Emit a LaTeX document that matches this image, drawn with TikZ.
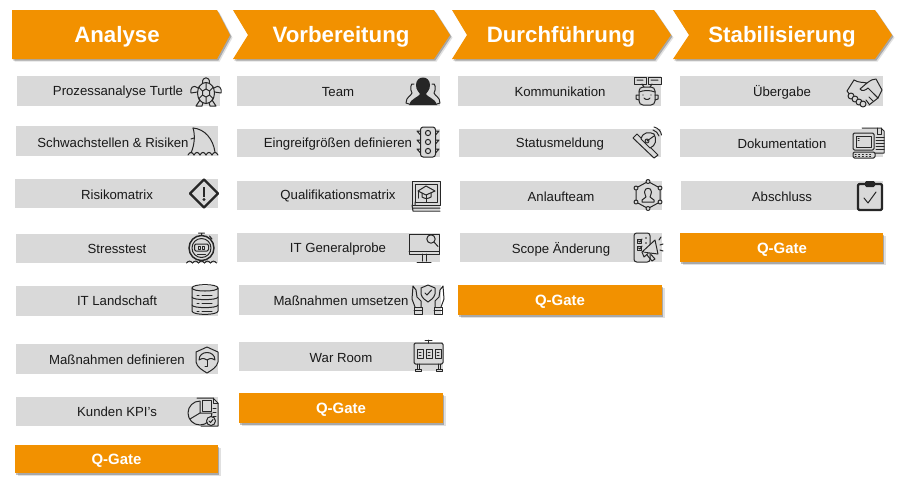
\documentclass[tikz,border=0pt]{standalone}
\usepackage{fontspec}
\setmainfont{Liberation Sans}
\usetikzlibrary{shadows}
\definecolor{gateorange}{HTML}{F29100}
\definecolor{bargrey}{HTML}{D9D9D9}
\definecolor{iconink}{HTML}{262626}
\begin{document}
\begin{tikzpicture}[x=0.75pt,y=-0.75pt,
    orangeshape/.style={fill=gateorange,
      drop shadow={shadow xshift=1.9pt,shadow yshift=-2pt,fill=black,opacity=.12},
      drop shadow={shadow xshift=1pt,shadow yshift=-1.2pt,fill=black,opacity=.25}},
    greybar/.style={fill=bargrey},
    headtext/.style={text=white,font=\bfseries\fontsize{16.7}{20}\selectfont,inner sep=0pt,yshift=-1.4pt},
    gatetext/.style={text=white,font=\bfseries\fontsize{11.2}{13}\selectfont,inner sep=0pt,yshift=-1.2pt},
    bartext/.style={text=black!90,font=\fontsize{9.9}{12}\selectfont,inner sep=0pt,yshift=-0.9pt},
    icon/.style={draw=iconink,line width=0.75pt,line join=round,line cap=round},
    iconfill/.style={fill=iconink,draw=none}]
    \useasboundingbox (0,0) rectangle (900,487);

    % chevrons
    \path[orangeshape] (12,10) -- (217,10) -- (230,35) -- (217,59) -- (12,59) -- cycle;
    \path[orangeshape] (233,10) -- (434,10) -- (450,35) -- (434,59) -- (233,59) -- (248,35) -- cycle;
    \path[orangeshape] (452,10) -- (654,10) -- (671,35) -- (654,59) -- (452,59) -- (467,35) -- cycle;
    \path[orangeshape] (673,10) -- (875,10) -- (892,35) -- (875,59) -- (673,59) -- (689,35) -- cycle;
    \node[headtext] (analyse) at (117,35) {Analyse};
    \node[headtext] (vorbereitung) at (341,35) {Vorbereitung};
    \node[headtext] (durchfuehrung) at (561,35) {Durchführung};
    \node[headtext] (stabilisierung) at (782,35) {Stabilisierung};

    % grey bars
    \fill[greybar] (17,76) rectangle (220,106);
    \fill[greybar] (16,126) rectangle (218,156);
    \fill[greybar] (15,179) rectangle (218,208);
    \fill[greybar] (16,234) rectangle (218,263);
    \fill[greybar] (16,286) rectangle (218,316);
    \fill[greybar] (16,344) rectangle (218,374);
    \fill[greybar] (16,397) rectangle (218,426);

    \fill[greybar] (237,76) rectangle (440,106);
    \fill[greybar] (237,129) rectangle (440,157);
    \fill[greybar] (237,181) rectangle (440,210);
    \fill[greybar] (237,233) rectangle (440,262);
    \fill[greybar] (239,285) rectangle (441,315);
    \fill[greybar] (239,342) rectangle (443,371);

    \fill[greybar] (458,76) rectangle (661,106);
    \fill[greybar] (459,129) rectangle (661,157);
    \fill[greybar] (460,181) rectangle (662,210);
    \fill[greybar] (460,233) rectangle (662,262);

    \fill[greybar] (680,76) rectangle (883,106);
    \fill[greybar] (680,129) rectangle (883,157);
    \fill[greybar] (681,181) rectangle (883,210);

    % q-gates
    \path[orangeshape] (15,445) rectangle (218,473);
    \path[orangeshape] (239,393) rectangle (443,423);
    \path[orangeshape] (458,285) rectangle (662,315);
    \path[orangeshape] (680,233) rectangle (883,262);
    \node[gatetext] (gatea) at (116.5,459) {Q-Gate};
    \node[gatetext] (gateb) at (341,408.5) {Q-Gate};
    \node[gatetext] (gatec) at (560,300) {Q-Gate};
    \node[gatetext] (gated) at (782,248) {Q-Gate};

    % labels
    \node[bartext] (turtle) at (118,90.5) {Prozessanalyse Turtle};
    \node[bartext] (schwach) at (113,141.5) {Schwachstellen \& Risiken};
    \node[bartext] (matrix) at (117,193.5) {Risikomatrix};
    \node[bartext] (stress) at (117,248) {Stresstest};
    \node[bartext] (landschaft) at (117,300) {IT Landschaft};
    \node[bartext] (definieren) at (117,359) {Maßnahmen definieren};
    \node[bartext] (kunden) at (117,411) {Kunden KPI's};

    \node[bartext] (team) at (338,91) {Team};
    \node[bartext] (eingreif) at (338,143) {Eingreifgrößen definieren};
    \node[bartext] (quali) at (338,195) {Qualifikationsmatrix};
    \node[bartext] (probe) at (338,248) {IT Generalprobe};
    \node[bartext] (umsetzen) at (341,300) {Maßnahmen umsetzen};
    \node[bartext] (warroom) at (341,357) {War Room};

    \node[bartext] (komm) at (560,91) {Kommunikation};
    \node[bartext] (status) at (560,143) {Statusmeldung};
    \node[bartext] (anlauf) at (561,196) {Anlaufteam};
    \node[bartext] (scope) at (561,248) {Scope Änderung};

    \node[bartext] (uebergabe) at (782,91) {Übergabe};
    \node[bartext] (doku) at (782,143) {Dokumentation};
    \node[bartext] (abschluss) at (782,196) {Abschluss};

    % icons, first column
    \begin{scope}[shift={(206,92)}]
      \draw[icon] (-3.5,-9) .. controls (-4,-16) and (4,-16) .. (3.5,-9);
      \draw[icon] (0,1) ellipse [x radius=8.5,y radius=10.5];
      \draw[icon] (0,-3) -- (3.5,-1) -- (3.5,3) -- (0,5) -- (-3.5,3) -- (-3.5,-1) -- cycle;
      \draw[icon] (0,-3) -- (0,-9.5) (3.5,-1) -- (7.5,-5) (3.5,3) -- (7.5,7) (0,5) -- (0,11.5) (-3.5,3) -- (-7.5,7) (-3.5,-1) -- (-7.5,-5);
      \draw[icon] (-8,-4) .. controls (-13,-8) and (-16,-4) .. (-15,1) -- (-8.5,0);
      \draw[icon] (8,-4) .. controls (13,-8) and (16,-4) .. (15,1) -- (8.5,0);
      \draw[icon] (-6,8) -- (-10,14) -- (-4,14) -- (-3,10.5);
      \draw[icon] (6,8) -- (10,14) -- (4,14) -- (3,10.5);
    \end{scope}
    \begin{scope}[shift={(203,142)}]
      \draw[icon] (-10,-14) .. controls (2,-13) and (10,-3) .. (12,10);
      \draw[icon] (-10,-14) .. controls (-8,-8) and (-8,2) .. (-12,11);
      \draw[icon] (-12,-3) -- (-9,-4);
      \foreach \wx in {-15,-9,-3,3,9} \draw[icon] (\wx,13) .. controls (\wx+2,9.5) and (\wx+4,9.5) .. (\wx+6,13);
    \end{scope}
    \begin{scope}[shift={(204,193.5)}]
      \draw[icon,line width=1.7pt] (0,-14) -- (14,0) -- (0,14) -- (-14,0) -- cycle;
      \fill[iconfill] (-1.4,-7) rectangle (1.4,3);
      \fill[iconfill] (0,6) circle (1.7);
    \end{scope}
    \begin{scope}[shift={(201.5,248)}]
      \draw[icon,line width=1.1pt] (0,0) circle (12.5);
      \draw[icon] (0,0) circle (9.5);
      \draw[icon,rounded corners=1pt] (-7,-4) rectangle (7,3);
      \draw[icon] (-3,-2) rectangle (-1,1) (1,-2) rectangle (3,1);
      \draw[icon] (-4,6) -- (4,6);
      \draw[icon] (-3,-15) -- (3,-15) (0,-15) -- (0,-12.5) (8,-12) -- (10.5,-9);
      \foreach \wx in {-15,-9,-3,3,9} \draw[icon] (\wx,15) .. controls (\wx+2,12.5) and (\wx+4,12.5) .. (\wx+6,15);
    \end{scope}
    \begin{scope}[shift={(205,300)}]
      \draw[icon] (-13,-12) .. controls (-13,-16.5) and (13,-16.5) .. (13,-12) -- (13,11) .. controls (13,15.5) and (-13,15.5) .. (-13,11) -- cycle;
      \draw[icon] (-13,-12) .. controls (-13,-8) and (13,-8) .. (13,-12);
      \draw[icon] (-13,-3) .. controls (-13,0.5) and (13,0.5) .. (13,-3);
      \draw[icon] (-13,5) .. controls (-13,8.5) and (13,8.5) .. (13,5);
      \foreach \dy in {-5,3,11} \draw[icon] (-8,\dy) -- (-6,\dy) (-3,\dy) -- (7,\dy);
    \end{scope}
    \begin{scope}[shift={(207,360)}]
      \draw[icon] (0,-13) -- (11,-8) -- (11,2) .. controls (10,7) and (5,10) .. (0,13) .. controls (-5,10) and (-10,7) .. (-11,2) -- (-11,-8) -- cycle;
      \draw[icon] (-8,0) .. controls (-8,-10) and (8,-10) .. (8,0) .. controls (5,-2) and (3,-2) .. (0,0) .. controls (-3,-2) and (-5,-2) .. (-8,0);
      \draw[icon] (0,0) -- (0,6) -- (-2,6);
    \end{scope}
    \begin{scope}[shift={(204,412)}]
      \draw[icon] (-7,-14) -- (9,-14) -- (14,-9) -- (14,14) -- (-3,14);
      \draw[icon] (9,-14) -- (9,-9) -- (14,-9);
      \draw[icon,fill=bargrey] (-4,-11) arc (-90:-360:12) -- (-4,1) -- cycle;
      \draw[icon] (-4,1) -- (-14,7);
      \draw[icon,fill=bargrey] (-2,-12) -- (7,-12) -- (7,-1) -- (-2,-1) -- cycle;
      \draw[icon] (9,-4) -- (12,-4) (9,0) -- (12,0) (9,4) -- (12,4);
      \draw[icon,fill=bargrey] (7,9) circle (4.5);
      \draw[icon] (5,9) -- (6.5,10.5) -- (9,7.5);
    \end{scope}

    % icons, second column
    \begin{scope}[shift={(423,92)}]
      \fill[iconfill] (-7,-7) .. controls (-7,-17) and (7,-17) .. (7,-7) .. controls (7,-2) and (4,0) .. (3,2) .. controls (4,5) and (12,6) .. (14,13) -- (-14,13) .. controls (-12,6) and (-4,5) .. (-3,2) .. controls (-4,0) and (-7,-2) .. (-7,-7) -- cycle;
      \draw[icon] (-9,-8) .. controls (-13,-10) and (-13,-2) .. (-11,1) .. controls (-12,4) and (-17,5) .. (-17,11) -- (-14,12);
      \draw[icon] (9,-8) .. controls (13,-10) and (13,-2) .. (11,1) .. controls (12,4) and (17,5) .. (17,11) -- (14,12);
    \end{scope}
    \begin{scope}[shift={(428,142)}]
      \draw[icon,rounded corners=2pt,fill=bargrey] (-7.5,-15) rectangle (7.5,15);
      \foreach \cy in {-9,0,9} \draw[icon] (0,\cy) circle (2.6);
      \foreach \cy in {-11,-2,7} \draw[icon] (-7.5,\cy) -- (-11,\cy) -- (-7.5,\cy+4) (7.5,\cy) -- (11,\cy) -- (7.5,\cy+4);
    \end{scope}
    \begin{scope}[shift={(426,196)}]
      \draw[icon] (-14,-15) -- (14,-15) -- (14,9) -- (-14,9) -- cycle;
      \draw[icon] (-11,-12) -- (11,-12) -- (11,6) -- (-11,6) -- cycle;
      \draw[icon] (-11,6) -- (-11,9) (-14,9) -- (-13,15) -- (14,15) (-13,12) -- (14,12);
      \draw[icon] (-8,-5) -- (0,-10) -- (9,-5) -- (0,-1) -- cycle;
      \draw[icon] (-4,-3) -- (-4,1) .. controls (-1,3) and (2,3) .. (5,1) -- (5,-3);
      \draw[icon] (-8,-5) -- (-8,2) (0,-1) -- (0,6);
    \end{scope}
    \begin{scope}[shift={(424,248)}]
      \draw[icon] (-15,-14) -- (15,-14) -- (15,6) -- (-15,6) -- cycle;
      \draw[icon] (-15,3) -- (15,3);
      \draw[icon] (7,-9) circle (4.2);
      \draw[icon] (10,-6) -- (14,-1.5);
      \draw[icon] (-2,6) -- (-2,13) (2,6) -- (2,13) (-7,14) -- (7,14);
    \end{scope}
    \begin{scope}[shift={(428,299)}]
      \draw[icon] (0,-14) -- (7,-11) -- (7,-5) .. controls (6,-1) and (3,1) .. (0,3) .. controls (-3,1) and (-6,-1) .. (-7,-5) -- (-7,-11) -- cycle;
      \draw[icon] (-3,-6) -- (-1,-4) -- (3.5,-9);
      \draw[icon] (-15,-13) -- (-16,0) -- (-13,8) (-15,-13) -- (-12,-9) -- (-11,-2) -- (-7,2) -- (-7,8);
      \draw[icon] (15,-13) -- (16,0) -- (13,8) (15,-13) -- (12,-9) -- (11,-2) -- (7,2) -- (7,8);
      \draw[icon] (-14,8) rectangle (-6,15) (14,8) rectangle (6,15);
      \draw[icon] (-14,11) -- (-6,11) (14,11) -- (6,11);
    \end{scope}
    \begin{scope}[shift={(428,355)}]
      \draw[icon,rounded corners=1pt,fill=bargrey] (-14,-12) rectangle (15,9);
      \draw[icon] (-3,-15) -- (4,-15) (0.5,-15) -- (0.5,-12);
      \foreach \px in {-11,-2,7} {
        \draw[icon] (\px,-6) rectangle (\px+6,3);
        \draw[icon] (\px+2,-3) -- (\px+4,-3) (\px+2,0) -- (\px+4,0);
      }
      \draw[icon] (-11,9) -- (-11,14) (-9,9) -- (-9,14) (10,9) -- (10,14) (12,9) -- (12,14);
      \draw[icon] (-13,14) -- (-7,14) -- (-7,16) -- (-13,16) -- cycle (8,14) -- (14,14) -- (14,16) -- (8,16) -- cycle;
    \end{scope}

    % icons, third column
    \begin{scope}[shift={(647,91)}]
      \draw[icon] (-13,-14) rectangle (-1,-7);
      \draw[icon] (1,-14) rectangle (14,-7);
      \draw[icon] (-10,-11) -- (-4,-11) (4,-11) -- (11,-11) (-5,-7) -- (-3,-4) (5,-7) -- (3,-4);
      \draw[icon,rounded corners=3pt] (-8,-4) rectangle (8,14);
      \draw[icon] (-8,1) .. controls (-3,-1) and (3,-1) .. (8,1);
      \draw[icon] (-8,4) -- (-11,4) -- (-11,8) -- (-8,9) (8,4) -- (11,4) -- (11,8) -- (8,9);
      \draw[icon] (-3,7) .. controls (-2,9) and (2,9) .. (3,7);
      \fill[iconfill] (-4,4) circle (0.7) (4,4) circle (0.7);
    \end{scope}
    \begin{scope}[shift={(647,143)}]
      \draw[icon] (-14,-5) -- (-10,-9) -- (11,12) -- (7,15) -- cycle;
      \draw[icon,fill=bargrey] (-6,-4) .. controls (-4,-12) and (3,-11) .. (7,-9) .. controls (10,-4) and (9,3) .. (3,5) -- cycle;
      \draw[icon] (0,-2) circle (2);
      \draw[icon] (0,-2) -- (7,-7);
      \draw[icon] (6,-13) .. controls (9,-12) and (11,-10) .. (12,-7);
      \draw[icon] (7,-16) .. controls (11,-15) and (14,-12) .. (14.5,-8);
    \end{scope}
    \begin{scope}[shift={(648,195)}]
      \draw[icon] (0,-13.5) -- (12,-7) -- (12,7) -- (0,13.5) -- (-12,7) -- (-12,-7) -- cycle;
      \foreach \vx/\vy in {0/-13.5,12/-7,12/7,0/13.5,-12/7,-12/-7} \draw[icon,fill=bargrey] (\vx,\vy) circle (2);
      \draw[icon] (-3.5,-3) .. controls (-3.5,-8) and (3.5,-8) .. (3.5,-3) .. controls (3.5,-1) and (2,1) .. (2,2) -- (6,5) -- (6,7) -- (-6,7) -- (-6,5) -- (-2,2) .. controls (-2,1) and (-3.5,-1) .. (-3.5,-3) -- cycle;
    \end{scope}
    \begin{scope}[shift={(648,248)}]
      \draw[icon,rounded corners=2pt] (-14,-15) rectangle (2,14);
      \draw[icon] (-11,-9) rectangle (-7,-5) (-11,-2) rectangle (-7,2);
      \draw[icon] (-9.5,-7) -- (-8,-6) -- (-6,-9) (-9.5,0) -- (-8,1) -- (-6,-2);
      \fill[iconfill] (-2,-10) circle (0.8) (-2,-5) circle (0.8);
      \draw[icon,fill=bargrey] (-6,4) -- (7,-8) -- (10,6) -- cycle;
      \draw[icon,fill=bargrey] (-6,4) -- (-4,9) -- (0,5.5);
      \draw[icon] (-1,7) -- (4,13) -- (7,11) -- (3,6.5);
      \draw[icon] (11,-8) -- (13,-11) (12,-3) -- (15,-4) (12,2) -- (15,3);
    \end{scope}

    % icons, fourth column
    \begin{scope}[shift={(865,92)}]
      \draw[icon] (-11,-12) .. controls (-6,-9) and (-2,-10) .. (2,-9) -- (-5,-3) .. controls (-3,0) and (1,-2) .. (3,-4) -- (13,6);
      \draw[icon] (-11,-12) -- (-18,-1) -- (-15,3);
      \draw[icon] (2,-9) .. controls (6,-12) and (8,-13) .. (11,-13) -- (17,-2) -- (13,6) -- (4,13);
      \draw[icon] (13,6) -- (9,2) (8,9) -- (4,5) (4,12) -- (1,8);
      \foreach \hx/\hy in {-14/4,-10/7,-6/10,-2/12} \draw[icon,fill=bargrey] (\hx,\hy) circle (3);
    \end{scope}
    \begin{scope}[shift={(868,143)}]
      \draw[icon] (-6,-15) -- (13,-15) -- (16,-12) -- (16,10) -- (6,10);
      \draw[icon] (9,-15) -- (9,-9) -- (13,-9) -- (13,-15);
      \foreach \ly in {-6,-3,0,3,6} \draw[icon] (8,\ly) -- (16,\ly);
      \draw[icon,rounded corners=1pt,fill=bargrey] (-15,-10) rectangle (6,7);
      \draw[icon] (-12,-7) rectangle (3,4);
      \draw[icon] (-10,-5) -- (-9,-5) (-10,-3) -- (-9,-3);
      \draw[icon,rounded corners=1pt,fill=bargrey] (-15,9) rectangle (7,15);
      \draw[icon,dotted] (-13,11) -- (5,11) (-13,13) -- (5,13);
    \end{scope}
    \begin{scope}[shift={(870,196)}]
      \draw[icon,line width=1.7pt,rounded corners=1pt] (-5,-12) -- (-12,-12) -- (-12,14) -- (12,14) -- (12,-12) -- (5,-12);
      \fill[iconfill,rounded corners=1pt] (-5,-15) rectangle (5,-9);
      \draw[icon] (-6,2) -- (-2,7) -- (6,-4);
    \end{scope}
  \end{tikzpicture}
\end{document}
